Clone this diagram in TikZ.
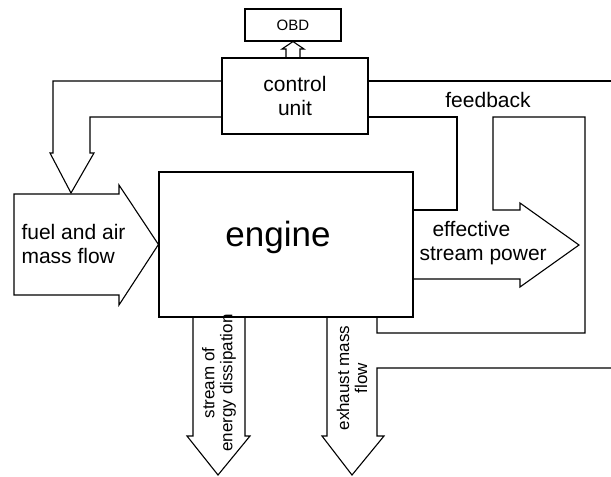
\documentclass[tikz,border=0pt]{standalone}
\usepackage{fontspec}
\setmainfont{Liberation Sans}
\usetikzlibrary{positioning}
\tikzset{
  box/.style={draw, rectangle, inner sep=0pt},
  flow/.style={line width=1.1pt, line join=miter},
  txt/.style={font=\fontsize{21}{24}\selectfont, align=center, inner sep=0pt},
  vtxt/.style={font=\fontsize{17}{18}\selectfont, align=center, inner sep=0pt, rotate=90}
}
\begin{document}
\begin{tikzpicture}[x=1pt,y=-1pt,line width=1.1pt]
\useasboundingbox (0,0) rectangle (611,477);

% boxes
\node[box, minimum width=96pt, minimum height=32pt, font=\fontsize{15}{18}\selectfont] (obd) at (293,25) {OBD};
\node[box, minimum width=146pt, minimum height=76pt, txt] (cu) at (295,96) {control\\unit};
\node[box, minimum width=254pt, minimum height=145pt] (engine) at (286,244.5) {};
\node[font=\fontsize{35}{40}\selectfont, inner sep=0pt] (englbl) at (278,237) {engine};

% labels
\node[txt, align=left, anchor=west] (fuel) at (21,244) {fuel and air\\mass flow};
\node[txt, align=left, anchor=west] (eff) at (419,243) {\hspace*{13pt}effective\\stream power};
\node[txt] (fb) at (488,100) {feedback};
\node[vtxt] (diss) at (219,383) {stream of\\energy dissipation};
\node[vtxt] (exh) at (352,378) {exhaust mass\\flow};

\coordinate (edgeA) at (611,81);
\coordinate (edgeB) at (611,368);

% control unit to OBD
\draw[flow] ([xshift=-9pt]cu.north) -- (286,49) -- (282,49) -- (obd.south) -- (304,49) -- (300,49) -- ([xshift=5pt]cu.north);

% fuel and air input
\draw[flow] (14,194) -- (119,194) -- (119,185) -- (engine.west) -- (119,305) -- (119,295) -- (14,295) -- cycle;

% control unit to fuel input
\draw[flow] ([yshift=15pt]cu.west) -- (53,81) -- (53,153) -- (50,153) -- (71,193) -- (94,153) -- (90,153) -- (90,117) -- ([yshift=-21pt]cu.west);

% control unit to the right
\draw[flow] ([yshift=15pt]cu.east) -- (edgeA);
\draw[flow] ([yshift=-21pt]cu.east) -- (457,117) -- (457,210) -- ([yshift=34.5pt]engine.east);

% feedback loop and effective power
\draw[flow] ([xshift=91pt]engine.south) -- (377,333) -- (585,333) -- (585,117) -- (493,117) -- (493,210) -- (520,210) -- (520,203) -- (579,245) -- (520,287) -- (520,279) -- ([yshift=-34.5pt]engine.east);

% energy dissipation
\draw[flow] ([xshift=-93pt]engine.south) -- (193,436) -- (187,436) -- (218,475) -- (250,436) -- (245,436) -- ([xshift=-41pt]engine.south);

% exhaust
\draw[flow] ([xshift=41pt]engine.south) -- (327,436) -- (322,436) -- (352,475) -- (384,436) -- (377,436) -- (377,368) -- (edgeB);
\end{tikzpicture}
\end{document}
